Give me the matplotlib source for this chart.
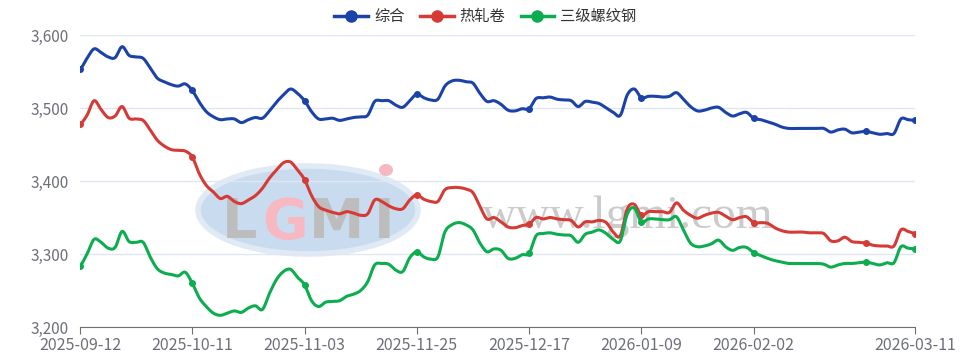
import numpy as np
import matplotlib.pyplot as plt
from matplotlib.lines import Line2D
from matplotlib.patches import Ellipse
from matplotlib.ticker import FuncFormatter

plt.rcParams['font.family'] = ['Noto Sans CJK SC', 'DejaVu Sans']

# category axis: one point per trading day, label every 16th day plus the last
tick_labels = ['2025-09-12', '2025-10-11', '2025-11-03', '2025-11-25',
               '2025-12-17', '2026-01-09', '2026-02-02', '2026-03-11']
tick_index = [0, 16, 32, 48, 64, 80, 96, 119]

composite = [
    3553, 3568, 3581, 3576, 3570, 3569, 3584, 3572, 3570, 3568,
    3555, 3541, 3536, 3532, 3530, 3533, 3524, 3508, 3495, 3488,
    3484, 3485, 3485, 3480, 3484, 3487, 3486, 3496, 3508, 3518,
    3526, 3520, 3510, 3495, 3485, 3485, 3486, 3483, 3485, 3487,
    3488, 3490, 3509, 3510, 3510, 3504, 3501, 3510, 3519, 3514,
    3511, 3512, 3530, 3537, 3538, 3536, 3534, 3520, 3509, 3510,
    3505, 3497, 3496, 3499, 3499, 3513, 3514, 3515, 3512, 3511,
    3510, 3502, 3509, 3508, 3506, 3500, 3494, 3490, 3518, 3526,
    3514, 3516, 3516, 3515, 3516, 3521, 3512, 3502, 3496, 3497,
    3500, 3501, 3494, 3489, 3492, 3494, 3486, 3484, 3481, 3478,
    3474, 3472, 3472, 3472, 3472, 3472, 3472, 3467, 3470, 3471,
    3466, 3467, 3468, 3466, 3464, 3465, 3465, 3485, 3484, 3483,
]

hot_rolled = [
    3478, 3490, 3510, 3498, 3487, 3489, 3502, 3486, 3485, 3483,
    3470, 3456, 3448, 3443, 3442, 3441, 3433, 3410, 3394, 3385,
    3376, 3379, 3372, 3369, 3374, 3380, 3390, 3404, 3415, 3425,
    3426, 3415, 3402, 3380, 3365, 3360, 3357, 3355, 3358, 3356,
    3353, 3355, 3374, 3372, 3366, 3362, 3362, 3374, 3381, 3375,
    3372, 3372, 3388, 3391, 3391, 3389, 3384, 3365, 3348, 3350,
    3344, 3337, 3336, 3339, 3341, 3350, 3348, 3350, 3348, 3347,
    3346, 3337, 3344, 3344, 3346, 3343, 3330, 3325, 3362, 3368,
    3353, 3358, 3358, 3358, 3357, 3370, 3360, 3353, 3349, 3353,
    3356, 3357, 3352, 3347, 3350, 3351, 3343, 3343, 3342, 3336,
    3332, 3330, 3330, 3330, 3329, 3329, 3328, 3318, 3318, 3323,
    3317, 3316, 3315, 3312, 3311, 3311, 3311, 3333, 3331, 3328,
]

rebar = [
    3284, 3300, 3320, 3316, 3308, 3309, 3331, 3317, 3316, 3316,
    3296, 3280, 3274, 3272, 3270, 3275, 3260, 3240, 3228, 3219,
    3216, 3219, 3222, 3220, 3226, 3229, 3224, 3246, 3265, 3276,
    3279, 3268, 3258, 3236, 3228, 3234, 3235, 3236, 3242, 3245,
    3250, 3262, 3285, 3287, 3286, 3278, 3276, 3295, 3303, 3296,
    3293, 3296, 3330, 3340, 3343, 3340, 3333, 3315, 3303, 3307,
    3305, 3294, 3294, 3299, 3301, 3325, 3328, 3329, 3327, 3326,
    3325, 3316, 3327, 3330, 3333, 3328, 3320, 3318, 3355, 3363,
    3344, 3348, 3348, 3347, 3347, 3351, 3333, 3315, 3310, 3311,
    3314, 3319, 3310, 3305, 3309, 3309, 3302, 3298, 3294, 3291,
    3289, 3287, 3287, 3287, 3287, 3287, 3286, 3282, 3285, 3287,
    3287, 3288, 3289, 3287, 3285, 3288, 3288, 3310, 3308, 3307,
]

series = [
    ('综合', composite, '#1a42a8'),
    ('热轧卷', hot_rolled, '#d63a35'),
    ('三级螺纹钢', rebar, '#0bad4e'),
]


def smooth(vals, steps=10):
    # Catmull-Rom curve through the points, like the smoothed lines of the original
    y = np.asarray(vals, float)
    p = np.concatenate([[y[0]], y, [y[-1]]])
    xs, ys = [], []
    t = np.linspace(0, 1, steps, endpoint=False)
    for i in range(len(y) - 1):
        p0, p1, p2, p3 = p[i], p[i + 1], p[i + 2], p[i + 3]
        seg = 0.5 * (2 * p1 + (-p0 + p2) * t + (2 * p0 - 5 * p1 + 4 * p2 - p3) * t ** 2
                     + (-p0 + 3 * p1 - 3 * p2 + p3) * t ** 3)
        xs.extend(i + t)
        ys.extend(seg)
    xs.append(len(y) - 1)
    ys.append(y[-1])
    return np.array(xs), np.array(ys)


fig = plt.figure(figsize=(9.71, 3.62), dpi=100)

# watermark layer in pixel coordinates
bg = fig.add_axes([0, 0, 1, 1], zorder=0)
bg.set_xlim(0, 971)
bg.set_ylim(362, 0)
bg.axis('off')
bg.add_patch(Ellipse((308, 210), 220, 88, fc='#c9dbef', ec='#e0eaf5', lw=4))
for ch, x, col in [('L', 240, '#bdbdbd'), ('G', 285, '#f7b8c2'),
                   ('M', 337, '#bdbdbd'), ('I', 384, '#bdbdbd')]:
    bg.text(x, 238, ch, fontsize=40, fontweight='bold', color=col, ha='center',
            va='baseline', family='DejaVu Sans')
bg.add_patch(Ellipse((386, 170), 14, 12, fc='#f7b8c2', ec='none'))
bg.text(628, 228, 'www.lgmi.com', fontsize=34, color='#cbcbcb', ha='center',
        va='baseline', family='Liberation Serif')

ax = fig.add_axes([80 / 971, 1 - 327 / 362, 835 / 971, 292 / 362], zorder=1)
ax.set_facecolor('none')

for name, vals, col in series:
    xs, ys = smooth(vals)
    ax.plot(xs, ys, color=col, lw=2.2, solid_capstyle='round')
    idx = [0, 16, 32, 48, 64, 80, 96, 112, 119]
    ax.plot(idx, [vals[i] for i in idx], 'o', color=col, ms=4)

ax.set_xlim(0, 119)
ax.set_ylim(3200, 3600)
ax.set_yticks([3200, 3300, 3400, 3500, 3600])
ax.yaxis.set_major_formatter(FuncFormatter(lambda v, p: f'{int(v):,}'))
ax.set_xticks(tick_index)
ax.set_xticklabels(tick_labels)
ax.grid(axis='y', color='#e0e6f1', lw=1)
ax.set_axisbelow(True)
for s in ['top', 'right', 'left']:
    ax.spines[s].set_visible(False)
ax.spines['bottom'].set_color('#6e7079')
ax.tick_params(axis='y', length=0, labelsize=11, labelcolor='#6e7079', pad=8)
ax.tick_params(axis='x', length=5, color='#6e7079', labelsize=11.5, labelcolor='#6e7079', pad=2)

handles = [Line2D([], [], color=c, lw=2.5, marker='o', ms=8) for _, _, c in series]
fig.legend(handles, [n for n, _, _ in series], loc='upper center', ncol=3,
           bbox_to_anchor=(0.5, 1.015), frameon=False, fontsize=11, handlelength=2.2,
           handletextpad=0.4, columnspacing=1.0, labelcolor='#333333')

fig.savefig('out.png', dpi=100)
